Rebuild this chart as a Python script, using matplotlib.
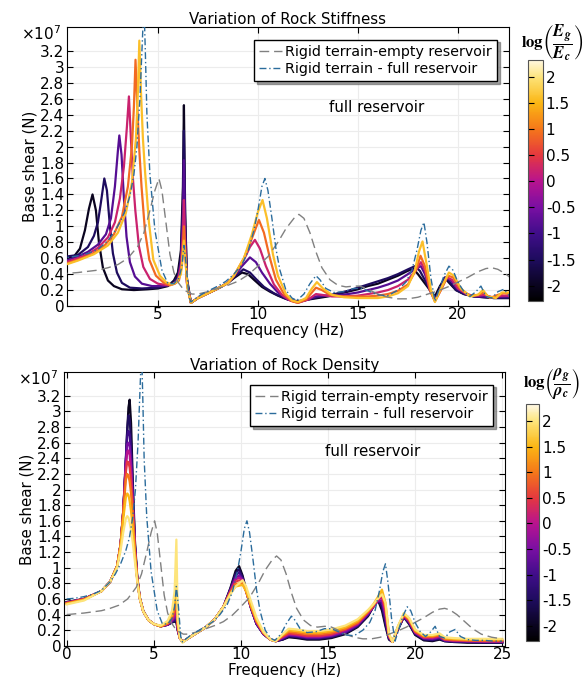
import numpy as np
import matplotlib
matplotlib.use("Agg")
import matplotlib.pyplot as plt
from matplotlib.colors import LinearSegmentedColormap, Normalize
from matplotlib.cm import ScalarMappable
from matplotlib.ticker import FuncFormatter

# ---- reference curves (frequency Hz, base shear x1e7 N) ----
empty_res = np.array([
    (0, 0.40), (1, 0.42), (2, 0.45), (2.5, 0.48), (3, 0.52), (3.5, 0.60), (4.0, 0.75),
    (4.3, 0.92), (4.6, 1.20), (4.85, 1.45), (5.05, 1.60), (5.2, 1.45), (5.4, 1.05),
    (5.6, 0.65), (5.8, 0.42), (6.0, 0.30), (6.3, 0.20), (6.7, 0.15), (7.0, 0.15),
    (7.5, 0.18), (8.0, 0.22), (8.5, 0.26), (9.0, 0.31), (9.5, 0.39), (10.0, 0.50),
    (10.5, 0.62), (11.0, 0.80), (11.4, 0.97), (11.8, 1.10), (12.05, 1.15), (12.3, 1.10),
    (12.6, 0.92), (12.9, 0.68), (13.2, 0.48), (13.6, 0.33), (14.0, 0.26), (14.4, 0.24),
    (14.8, 0.25), (15.1, 0.25), (15.5, 0.21), (16.0, 0.15), (16.5, 0.11), (17.0, 0.09),
    (17.5, 0.09), (18.0, 0.11), (18.5, 0.15), (19.0, 0.19), (19.5, 0.24), (20.0, 0.30),
    (20.5, 0.36), (21.0, 0.43), (21.4, 0.47), (21.7, 0.48), (22.0, 0.46), (22.4, 0.40),
    (22.8, 0.32), (23.3, 0.22), (23.8, 0.15), (24.4, 0.11), (25.0, 0.09)])

full_res = np.array([
    (0, 0.60), (0.5, 0.61), (1.0, 0.63), (1.5, 0.66), (2.0, 0.71), (2.5, 0.82), (2.8, 0.92),
    (3.1, 1.05), (3.4, 1.22), (3.6, 1.38), (3.8, 1.65), (3.95, 2.0), (4.1, 2.6), (4.2, 3.2),
    (4.3, 3.8), (4.37, 3.2), (4.45, 2.4), (4.6, 1.65), (4.85, 0.95), (5.2, 0.45), (5.5, 0.28),
    (5.8, 0.28), (6.05, 0.35), (6.2, 0.5), (6.3, 0.76), (6.42, 0.5), (6.55, 0.12), (6.65, 0.05),
    (6.8, 0.08), (7.2, 0.15), (7.6, 0.2), (8.0, 0.25), (8.4, 0.31), (8.8, 0.4), (9.2, 0.52),
    (9.5, 0.68), (9.8, 0.95), (10.0, 1.2), (10.2, 1.5), (10.35, 1.6), (10.5, 1.45), (10.7, 1.1),
    (10.9, 0.72), (11.1, 0.45), (11.4, 0.2), (11.7, 0.1), (11.95, 0.07), (12.3, 0.15),
    (12.6, 0.28), (12.9, 0.38), (13.1, 0.33), (13.4, 0.22), (13.8, 0.17), (14.3, 0.18),
    (14.8, 0.22), (15.2, 0.22), (15.6, 0.18), (16.0, 0.14), (16.5, 0.13), (17.0, 0.2),
    (17.4, 0.3), (17.7, 0.45), (17.95, 0.7), (18.15, 0.95), (18.3, 1.05), (18.45, 0.8),
    (18.65, 0.35), (18.85, 0.06), (19.05, 0.2), (19.3, 0.38), (19.55, 0.5), (19.75, 0.45),
    (20.0, 0.3), (20.3, 0.18), (20.6, 0.12), (20.9, 0.18), (21.15, 0.25), (21.4, 0.12),
    (21.7, 0.1), (22.0, 0.18), (22.3, 0.21), (22.6, 0.12), (23.0, 0.08), (23.5, 0.07),
    (24.0, 0.07), (24.5, 0.06), (25.0, 0.06)])

# ---- stiffness variation, log(Eg/Ec) ----
stiff_levels = [-2, -1.5, -0.8, 0.2, 0.9, 1.6]

stiff_0 = np.array([
    (0.4, 0.6), (0.8, 0.62), (1.1, 0.72), (1.35, 0.95), (1.55, 1.22), (1.73, 1.4), (1.9, 1.2),
    (2.05, 0.8), (2.25, 0.48), (2.5, 0.32), (2.8, 0.25), (3.2, 0.21), (3.8, 0.2), (4.5, 0.21),
    (5.0, 0.22), (5.5, 0.25), (5.8, 0.32), (6.0, 0.42), (6.15, 0.7), (6.25, 1.5), (6.3, 2.52),
    (6.36, 1.2), (6.45, 0.35), (6.65, 0.04), (7.0, 0.1), (7.5, 0.16), (8.0, 0.22), (8.5, 0.29),
    (8.8, 0.35), (9.2, 0.42), (9.5, 0.4), (9.8, 0.33), (10.2, 0.24), (10.6, 0.18), (11.0, 0.13),
    (11.5, 0.08), (12.0, 0.06), (12.5, 0.08), (13.0, 0.1), (13.5, 0.12), (14.0, 0.15),
    (14.5, 0.18), (15.0, 0.21), (15.5, 0.25), (16.0, 0.28), (16.5, 0.33), (17.0, 0.38),
    (17.4, 0.43), (17.75, 0.47), (18.0, 0.4), (18.3, 0.3), (18.6, 0.2), (18.85, 0.12),
    (19.1, 0.25), (19.35, 0.35), (19.6, 0.28), (19.9, 0.2), (20.3, 0.15), (20.8, 0.12),
    (21.3, 0.11), (21.8, 0.1), (22.3, 0.1), (22.6, 0.1)])

stiff_1 = np.array([
    (0.4, 0.62), (1.0, 0.64), (1.5, 0.74), (1.8, 0.88), (2.0, 1.05), (2.15, 1.3), (2.32, 1.6),
    (2.45, 1.45), (2.6, 1.0), (2.75, 0.66), (2.95, 0.42), (3.2, 0.29), (3.6, 0.23), (4.2, 0.22),
    (5.0, 0.23), (5.5, 0.26), (5.8, 0.3), (6.0, 0.38), (6.15, 0.6), (6.25, 1.3), (6.3, 2.2),
    (6.36, 1.1), (6.45, 0.33), (6.65, 0.04), (7.0, 0.1), (7.5, 0.16), (8.0, 0.22), (8.5, 0.29),
    (8.8, 0.36), (9.27, 0.46), (9.6, 0.42), (9.9, 0.34), (10.3, 0.24), (10.8, 0.16), (11.3, 0.1),
    (11.8, 0.06), (12.2, 0.06), (12.6, 0.09), (13.0, 0.11), (13.5, 0.13), (14.0, 0.16),
    (14.5, 0.19), (15.0, 0.23), (15.5, 0.27), (16.0, 0.31), (16.5, 0.35), (17.0, 0.4),
    (17.5, 0.46), (17.85, 0.5), (18.1, 0.44), (18.4, 0.3), (18.7, 0.15), (18.9, 0.1),
    (19.1, 0.22), (19.35, 0.36), (19.6, 0.3), (19.9, 0.2), (20.3, 0.15), (20.8, 0.12),
    (21.3, 0.11), (21.8, 0.1), (22.6, 0.1)])

stiff_2 = np.array([
    (0.4, 0.57), (1.0, 0.62), (1.5, 0.68), (2.0, 0.77), (2.4, 0.9), (2.65, 1.1), (2.85, 1.5),
    (3.0, 1.95), (3.07, 2.14), (3.18, 1.9), (3.3, 1.35), (3.43, 0.87), (3.6, 0.55), (3.85, 0.37),
    (4.2, 0.28), (4.7, 0.25), (5.2, 0.25), (5.5, 0.26), (5.8, 0.28), (6.0, 0.34), (6.15, 0.55),
    (6.25, 1.1), (6.3, 1.83), (6.36, 0.9), (6.45, 0.3), (6.65, 0.04), (7.0, 0.1), (7.5, 0.16),
    (8.0, 0.22), (8.5, 0.29), (8.8, 0.37), (9.2, 0.5), (9.6, 0.61), (9.9, 0.55), (10.2, 0.42),
    (10.6, 0.28), (11.0, 0.17), (11.5, 0.08), (12.0, 0.05), (12.5, 0.08), (12.9, 0.12),
    (13.3, 0.13), (13.8, 0.13), (14.5, 0.15), (15.0, 0.17), (15.5, 0.2), (16.0, 0.23),
    (16.5, 0.27), (17.0, 0.32), (17.5, 0.4), (17.9, 0.47), (18.15, 0.5), (18.35, 0.4),
    (18.6, 0.2), (18.85, 0.08), (19.1, 0.2), (19.4, 0.36), (19.65, 0.32), (19.95, 0.22),
    (20.4, 0.15), (20.9, 0.12), (21.3, 0.12), (21.8, 0.11), (22.6, 0.12)])

stiff_3 = np.array([
    (0.4, 0.55), (1.0, 0.6), (1.5, 0.65), (2.0, 0.73), (2.5, 0.86), (2.85, 1.05), (3.1, 1.35),
    (3.3, 1.75), (3.45, 2.25), (3.55, 2.63), (3.65, 2.1), (3.75, 1.6), (3.87, 1.2), (4.05, 0.75),
    (4.27, 0.49), (4.6, 0.34), (5.0, 0.28), (5.5, 0.26), (5.8, 0.28), (6.0, 0.32), (6.15, 0.5),
    (6.25, 0.9), (6.3, 1.33), (6.36, 0.75), (6.45, 0.28), (6.65, 0.04), (7.0, 0.1), (7.5, 0.16),
    (8.0, 0.22), (8.5, 0.29), (8.8, 0.38), (9.3, 0.58), (9.6, 0.74), (9.85, 0.83), (10.1, 0.72),
    (10.4, 0.5), (10.8, 0.27), (11.2, 0.14), (11.6, 0.07), (12.0, 0.04), (12.5, 0.08),
    (12.9, 0.15), (13.2, 0.14), (13.7, 0.12), (14.3, 0.12), (15.0, 0.13), (15.5, 0.15),
    (16.0, 0.17), (16.5, 0.2), (17.0, 0.25), (17.5, 0.33), (17.9, 0.45), (18.15, 0.55),
    (18.35, 0.45), (18.6, 0.2), (18.85, 0.06), (19.1, 0.18), (19.45, 0.36), (19.7, 0.33),
    (20.0, 0.22), (20.5, 0.14), (21.0, 0.13), (21.3, 0.14), (21.7, 0.11), (22.2, 0.13),
    (22.6, 0.13)])

stiff_4 = np.array([
    (0.4, 0.53), (1.0, 0.58), (1.7, 0.65), (2.3, 0.75), (2.8, 0.9), (3.2, 1.12), (3.5, 1.5),
    (3.7, 2.0), (3.8, 2.5), (3.88, 3.09), (3.97, 2.5), (4.07, 1.95), (4.18, 1.5), (4.35, 0.95),
    (4.57, 0.58), (4.9, 0.38), (5.3, 0.29), (5.6, 0.26), (5.85, 0.28), (6.05, 0.32), (6.2, 0.5),
    (6.3, 1.0), (6.38, 0.6), (6.47, 0.25), (6.65, 0.04), (7.0, 0.1), (7.5, 0.16), (8.0, 0.22),
    (8.5, 0.29), (8.8, 0.38), (9.3, 0.6), (9.7, 0.85), (10.05, 1.08), (10.3, 0.92), (10.6, 0.6),
    (10.9, 0.33), (11.3, 0.15), (11.7, 0.06), (12.0, 0.04), (12.4, 0.08), (12.9, 0.23),
    (13.2, 0.2), (13.6, 0.14), (14.2, 0.12), (15.0, 0.12), (15.5, 0.12), (16.0, 0.13),
    (16.5, 0.15), (17.0, 0.19), (17.5, 0.27), (17.9, 0.45), (18.13, 0.63), (18.35, 0.5),
    (18.6, 0.2), (18.85, 0.06), (19.15, 0.2), (19.5, 0.38), (19.75, 0.36), (20.1, 0.22),
    (20.6, 0.13), (21.0, 0.14), (21.3, 0.17), (21.6, 0.1), (22.0, 0.14), (22.3, 0.16),
    (22.6, 0.15)])

stiff_5 = np.array([
    (0.4, 0.52), (1.0, 0.57), (1.8, 0.65), (2.5, 0.76), (3.0, 0.92), (3.4, 1.17), (3.7, 1.55),
    (3.9, 2.1), (4.0, 2.7), (4.07, 3.33), (4.15, 2.7), (4.25, 2.1), (4.35, 1.71), (4.55, 1.05),
    (4.77, 0.58), (5.1, 0.38), (5.4, 0.3), (5.7, 0.27), (5.95, 0.3), (6.15, 0.4), (6.3, 0.82),
    (6.38, 0.55), (6.48, 0.22), (6.65, 0.04), (7.0, 0.1), (7.5, 0.16), (8.0, 0.22), (8.5, 0.29),
    (8.8, 0.38), (9.3, 0.6), (9.7, 0.9), (10.0, 1.18), (10.23, 1.33), (10.45, 1.1), (10.75, 0.65),
    (11.0, 0.38), (11.4, 0.15), (11.7, 0.07), (12.0, 0.05), (12.4, 0.1), (12.7, 0.22),
    (12.95, 0.3), (13.25, 0.22), (13.7, 0.14), (14.3, 0.11), (15.0, 0.1), (15.5, 0.1),
    (16.0, 0.1), (16.5, 0.12), (17.0, 0.16), (17.5, 0.25), (17.85, 0.45), (18.05, 0.68),
    (18.23, 0.81), (18.45, 0.5), (18.65, 0.2), (18.85, 0.05), (19.15, 0.22), (19.55, 0.42),
    (19.8, 0.38), (20.15, 0.22), (20.6, 0.12), (21.0, 0.14), (21.25, 0.2), (21.5, 0.12),
    (21.9, 0.1), (22.2, 0.17), (22.6, 0.17)])

stiff_curves = [stiff_0, stiff_1, stiff_2, stiff_3, stiff_4, stiff_5]

# ---- density variation, log(rho_g/rho_c), shared frequency grid ----
dens_levels = [-2, -1.5, -1, -0.5, 0, 0.5, 1, 1.5, 2]
dens_f = [0, 1.0, 2.0, 2.5, 2.9, 3.1, 3.25, 3.4, 3.48,
          3.55, 3.62, 3.7, 3.8, 3.92, 4.05, 4.2, 4.4, 4.7,
          5.0, 5.4, 5.8, 6.05, 6.2, 6.3, 6.38, 6.5, 6.65,
          7.0, 7.5, 8.0, 8.5, 9.0, 9.4, 9.7, 9.9, 10.1,
          10.3, 10.6, 10.9, 11.3, 11.7, 12.0, 12.4, 12.75, 13.2,
          13.8, 14.5, 15.2, 16.0, 16.7, 17.3, 17.6, 17.85, 18.1,
          18.3, 18.5, 18.7, 19.0, 19.35, 19.65, 20.0, 20.5, 21.0,
          21.4, 21.7, 22.2, 23.0, 24.0, 25.0]

dens_0 = [0.56, 0.6, 0.7, 0.82, 1.02, 1.3, 1.7, 2.35, 2.75,
          3.05, 3.15, 2.85, 2.1, 1.35, 0.9, 0.62, 0.45, 0.33,
          0.28, 0.25, 0.27, 0.3, 0.31, 0.3, 0.2, 0.1, 0.05,
          0.1, 0.17, 0.24, 0.34, 0.5, 0.74, 0.96, 1.02, 0.9,
          0.72, 0.47, 0.28, 0.15, 0.08, 0.06, 0.08, 0.11, 0.1,
          0.08, 0.08, 0.1, 0.15, 0.24, 0.38, 0.5, 0.6, 0.45,
          0.25, 0.08, 0.05, 0.2, 0.37, 0.28, 0.14, 0.07, 0.06,
          0.08, 0.06, 0.05, 0.04, 0.04, 0.04]
dens_1 = [0.56, 0.6, 0.7, 0.82, 1.02, 1.3, 1.72, 2.4, 2.78,
          2.95, 2.9, 2.6, 2.0, 1.3, 0.88, 0.61, 0.44, 0.33,
          0.28, 0.25, 0.27, 0.3, 0.32, 0.33, 0.2, 0.1, 0.05,
          0.1, 0.17, 0.24, 0.34, 0.5, 0.73, 0.93, 0.98, 0.88,
          0.71, 0.47, 0.28, 0.15, 0.08, 0.06, 0.08, 0.12, 0.11,
          0.09, 0.09, 0.11, 0.16, 0.25, 0.39, 0.5, 0.58, 0.5,
          0.28, 0.09, 0.05, 0.2, 0.37, 0.29, 0.15, 0.08, 0.07,
          0.09, 0.06, 0.05, 0.05, 0.04, 0.04]
dens_2 = [0.55, 0.6, 0.7, 0.82, 1.02, 1.3, 1.72, 2.38, 2.68,
          2.75, 2.7, 2.45, 1.9, 1.28, 0.87, 0.61, 0.44, 0.33,
          0.28, 0.25, 0.27, 0.31, 0.34, 0.36, 0.2, 0.1, 0.05,
          0.1, 0.17, 0.24, 0.34, 0.5, 0.72, 0.9, 0.94, 0.86,
          0.7, 0.47, 0.28, 0.15, 0.08, 0.06, 0.09, 0.13, 0.12,
          0.1, 0.1, 0.12, 0.17, 0.26, 0.4, 0.5, 0.57, 0.55,
          0.32, 0.1, 0.05, 0.21, 0.37, 0.3, 0.16, 0.09, 0.08,
          0.1, 0.07, 0.06, 0.05, 0.05, 0.05]
dens_3 = [0.55, 0.6, 0.7, 0.82, 1.02, 1.3, 1.72, 2.35, 2.58,
          2.6, 2.55, 2.32, 1.85, 1.27, 0.87, 0.61, 0.44, 0.33,
          0.28, 0.25, 0.27, 0.32, 0.36, 0.4, 0.21, 0.1, 0.05,
          0.1, 0.17, 0.24, 0.34, 0.5, 0.71, 0.87, 0.9, 0.85,
          0.7, 0.48, 0.29, 0.15, 0.08, 0.06, 0.1, 0.14, 0.13,
          0.11, 0.11, 0.13, 0.18, 0.27, 0.41, 0.5, 0.57, 0.58,
          0.38, 0.11, 0.05, 0.22, 0.38, 0.31, 0.17, 0.1, 0.09,
          0.11, 0.07, 0.06, 0.06, 0.05, 0.05]
dens_4 = [0.55, 0.6, 0.7, 0.82, 1.02, 1.3, 1.72, 2.3, 2.48,
          2.5, 2.44, 2.22, 1.8, 1.25, 0.87, 0.61, 0.44, 0.33,
          0.28, 0.25, 0.28, 0.33, 0.39, 0.45, 0.22, 0.1, 0.05,
          0.1, 0.17, 0.24, 0.34, 0.5, 0.7, 0.85, 0.87, 0.84,
          0.7, 0.48, 0.3, 0.16, 0.08, 0.06, 0.11, 0.15, 0.14,
          0.12, 0.12, 0.14, 0.2, 0.28, 0.42, 0.5, 0.58, 0.62,
          0.42, 0.12, 0.05, 0.22, 0.39, 0.32, 0.17, 0.1, 0.1,
          0.12, 0.08, 0.07, 0.06, 0.06, 0.06]
dens_5 = [0.55, 0.6, 0.7, 0.82, 1.02, 1.3, 1.72, 2.22, 2.36,
          2.35, 2.28, 2.1, 1.74, 1.23, 0.87, 0.61, 0.44, 0.33,
          0.28, 0.25, 0.28, 0.35, 0.43, 0.55, 0.24, 0.1, 0.05,
          0.1, 0.17, 0.24, 0.34, 0.5, 0.69, 0.82, 0.84, 0.82,
          0.7, 0.49, 0.31, 0.16, 0.08, 0.06, 0.12, 0.16, 0.15,
          0.13, 0.13, 0.15, 0.21, 0.29, 0.43, 0.51, 0.59, 0.65,
          0.46, 0.13, 0.05, 0.23, 0.39, 0.33, 0.18, 0.11, 0.11,
          0.13, 0.08, 0.07, 0.07, 0.06, 0.06]
dens_6 = [0.54, 0.59, 0.7, 0.82, 1.02, 1.3, 1.7, 2.12, 2.2,
          2.18, 2.1, 1.95, 1.65, 1.2, 0.86, 0.61, 0.44, 0.33,
          0.28, 0.25, 0.29, 0.37, 0.48, 0.7, 0.26, 0.1, 0.05,
          0.1, 0.17, 0.24, 0.34, 0.5, 0.68, 0.79, 0.8, 0.8,
          0.7, 0.5, 0.32, 0.17, 0.08, 0.06, 0.13, 0.18, 0.17,
          0.15, 0.15, 0.17, 0.22, 0.3, 0.44, 0.52, 0.6, 0.68,
          0.5, 0.14, 0.05, 0.23, 0.4, 0.34, 0.19, 0.12, 0.12,
          0.14, 0.09, 0.08, 0.07, 0.07, 0.07]
dens_7 = [0.54, 0.59, 0.7, 0.82, 1.02, 1.28, 1.62, 1.9, 1.95,
          1.93, 1.85, 1.72, 1.5, 1.15, 0.85, 0.61, 0.44, 0.33,
          0.28, 0.25, 0.3, 0.4, 0.56, 0.9, 0.3, 0.1, 0.05,
          0.1, 0.17, 0.24, 0.34, 0.5, 0.67, 0.76, 0.77, 0.78,
          0.7, 0.51, 0.33, 0.17, 0.08, 0.06, 0.14, 0.2, 0.19,
          0.17, 0.17, 0.19, 0.24, 0.32, 0.45, 0.53, 0.62, 0.72,
          0.55, 0.15, 0.05, 0.24, 0.41, 0.35, 0.2, 0.13, 0.13,
          0.15, 0.1, 0.09, 0.08, 0.08, 0.08]
dens_8 = [0.53, 0.58, 0.7, 0.82, 1.0, 1.22, 1.45, 1.63, 1.66,
          1.64, 1.58, 1.48, 1.32, 1.08, 0.83, 0.6, 0.44, 0.33,
          0.28, 0.26, 0.32, 0.45, 0.7, 1.36, 0.35, 0.1, 0.04,
          0.1, 0.17, 0.24, 0.34, 0.5, 0.66, 0.76, 0.8, 0.84,
          0.76, 0.56, 0.36, 0.18, 0.08, 0.06, 0.15, 0.22, 0.21,
          0.19, 0.19, 0.21, 0.26, 0.34, 0.46, 0.53, 0.6, 0.66,
          0.55, 0.16, 0.05, 0.24, 0.42, 0.36, 0.21, 0.14, 0.14,
          0.16, 0.11, 0.1, 0.09, 0.09, 0.09]
dens_curves = [dens_0, dens_1, dens_2, dens_3, dens_4, dens_5, dens_6, dens_7, dens_8]

yticks = [0, 0.2, 0.4, 0.6, 0.8, 1, 1.2, 1.4, 1.6, 1.8, 2, 2.2, 2.4, 2.6, 2.8, 3, 3.2]
cbar_ticks = [-2, -1.5, -1, -0.5, 0, 0.5, 1, 1.5, 2]

# colormap close to the COMSOL one in the figure
cmap = LinearSegmentedColormap.from_list("rock", [
    (0.0, "#000000"), (0.065, "#0a0420"), (0.173, "#1e0c5e"), (0.281, "#400d8a"),
    (0.389, "#7a0fa3"), (0.497, "#b8138f"), (0.605, "#e5383f"), (0.713, "#f5771a"),
    (0.821, "#fbb614"), (0.929, "#fde47a"), (1.0, "#fff8e6")])
norm = Normalize(-2.3, 2.33)

fig = plt.figure(figsize=(5.87, 6.77), dpi=100)
ax1 = fig.add_axes([0.114, 0.548, 0.753, 0.412])
ax2 = fig.add_axes([0.109, 0.046, 0.751, 0.404])
cax1 = fig.add_axes([0.899, 0.555, 0.026, 0.357])
cax2 = fig.add_axes([0.896, 0.053, 0.023, 0.350])


def draw_refs(ax):
    ax.plot(empty_res[:, 0], empty_res[:, 1], color="#808080", lw=1.0,
            dashes=(7, 3.5), zorder=4, label="Rigid terrain-empty reservoir")
    ax.plot(full_res[:, 0], full_res[:, 1], color="#2b6c9c", lw=1.0,
            dashes=(5, 2, 1, 2), zorder=4, label="Rigid terrain - full reservoir")


def style(ax, xlim, xticks, title):
    ax.set_xlim(*xlim)
    ax.set_ylim(0, 3.5)
    ax.set_xticks(xticks)
    ax.set_yticks(yticks)
    ax.yaxis.set_major_formatter(FuncFormatter(lambda v, p: f"{v:g}"))
    ax.tick_params(direction="in", top=True, right=True, length=4, labelsize=11, pad=2)
    ax.tick_params(axis="x", pad=1)
    ax.grid(True, color="#ececec", lw=0.8)
    ax.set_axisbelow(True)
    ax.set_title(title, fontsize=10.8, pad=2)
    ax.set_ylabel("Base shear (N)", fontsize=10.8, labelpad=2)
    ax.set_xlabel("Frequency (Hz)", fontsize=10.8, labelpad=0.5)
    ax.text(-0.105, 0.978, r"$\times10^7$", transform=ax.transAxes, fontsize=11,
            ha="left", va="center")
    ax.text(0.70, 0.71, "full reservoir", transform=ax.transAxes, fontsize=10.8,
            ha="center", va="center")
    ax.legend(loc="upper right", bbox_to_anchor=(0.973, 0.955), fontsize=10.3,
              frameon=True, fancybox=False, shadow=True, edgecolor="black",
              framealpha=1, handlelength=1.6, handletextpad=0.2, borderpad=0.35,
              labelspacing=0.25, borderaxespad=0)


def colorbar(cax, label, ypos):
    sm = ScalarMappable(norm=norm, cmap=cmap)
    cb = fig.colorbar(sm, cax=cax, ticks=cbar_ticks)
    cb.ax.yaxis.set_major_formatter(FuncFormatter(lambda v, p: f"{v:g}"))
    cb.ax.tick_params(direction="in", left=True, right=False, length=4,
                      labelsize=11, pad=2)
    cb.outline.set_edgecolor("#555555")
    fig.text(0.94, ypos, label, fontsize=12, ha="center", va="center",
             math_fontfamily="stix")


for curve, lev in zip(stiff_curves, stiff_levels):
    ax1.plot(curve[:, 0], curve[:, 1], color=cmap(norm(lev)), lw=1.6, zorder=3)
draw_refs(ax1)
style(ax1, (0.45, 22.55), [5, 10, 15, 20], "Variation of Rock Stiffness")

for vals, lev in zip(dens_curves, dens_levels):
    ax2.plot(dens_f, vals, color=cmap(norm(lev)), lw=1.6, zorder=3)
draw_refs(ax2)
style(ax2, (-0.15, 25.15), [0, 5, 10, 15, 20, 25], "Variation of Rock Density")

colorbar(cax1, r"$\mathbf{log}\left(\dfrac{\mathbfit{E}_{\mathbfit{g}}}{\mathbfit{E}_{\mathbfit{c}}}\right)$",
         1 - 43 / 677)
colorbar(cax2, r"$\mathbf{log}\left(\dfrac{\mathbfit{\rho}_{\mathbfit{g}}}{\mathbfit{\rho}_{\mathbfit{c}}}\right)$",
         1 - 383 / 677)

fig.savefig("out.png", dpi=100)
